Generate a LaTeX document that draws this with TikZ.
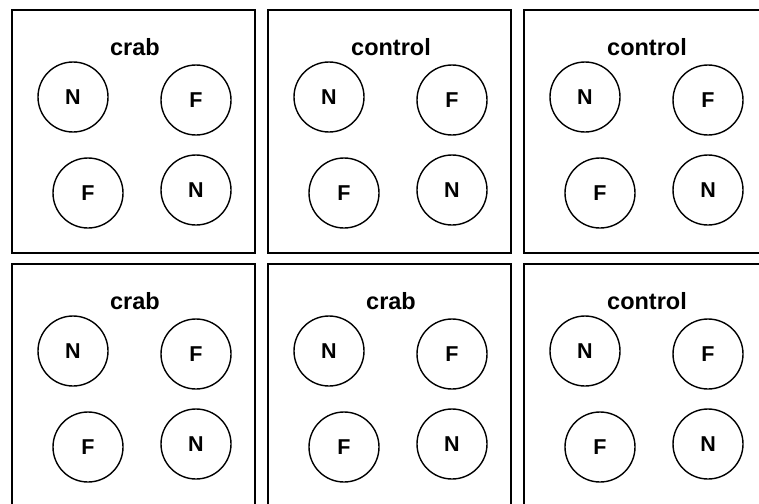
\documentclass[tikz,border=0pt]{standalone}
\usepackage{fontspec}
\setmainfont{Liberation Sans}
\usetikzlibrary{positioning}

\begin{document}
\begin{tikzpicture}[
    x=1pt, y=-1pt,
    tank/.style={draw, line width=1.6pt, minimum width=243pt, minimum height=243pt, inner sep=0pt, anchor=north west},
    pool/.style={circle, draw, line width=1.4pt, minimum size=70pt, inner sep=0pt, font=\fontsize{21.5}{25}\selectfont\bfseries},
    tag/.style={font=\fontsize{23.5}{28}\selectfont\bfseries}
]
\useasboundingbox (0,0) rectangle (759,503);
\clip (0,0) rectangle (759,503);

% --- Six arenas, two rows of three ---
\foreach \lab/\x/\y [count=\i] in {crab/11/9, control/267/9, control/523/9, crab/11/263, crab/267/263, control/523/263}
{
    \begin{scope}[shift={(\x,\y)}]
    \node[tank] (arena\i) at (0,0) {};
    \node[tag] (lab\i) at (124,38) {\lab};
    % --- four pools: N/F crossed ---
    \node[pool] (n\i a) at (62,88) {N};
    \node[pool] (f\i a) at (185,91) {F};
    \node[pool] (f\i b) at (77,184) {F};
    \node[pool] (n\i b) at (185,181) {N};
    \end{scope}
}

\end{tikzpicture}
\end{document}
